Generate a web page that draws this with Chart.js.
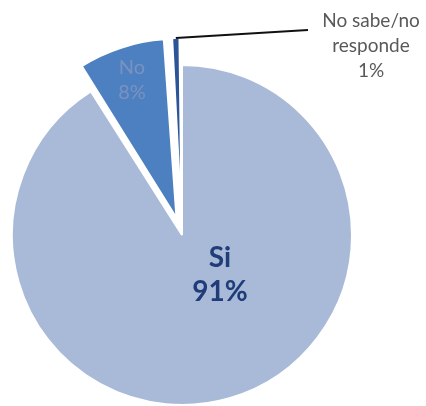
<!DOCTYPE html>
<html>
<head>
<meta charset="utf-8">
<script src="https://cdn.jsdelivr.net/npm/chart.js@4"></script>
<style>
  html, body { margin: 0; padding: 0; background: #fff; }
  #wrap { width: 426px; height: 406px; }
</style>
</head>
<body>
<div id="wrap"><canvas id="pie" width="426" height="406"></canvas></div>
<script>
const categories = ['Si', 'No', ['No sabe/no', 'responde']];
const shares = [91, 8, 1];

const sliceColors = ['#a9b9d8', '#4d80c0', '#2b5596'];
// how far each slice is pulled out of the pie (Chart.js units)
const sliceOffsets = [0, 71, 56];

// text block per slice, placed relative to the pie centre
const labelStyle = [
  { dx: 38, dy: 40, font: 'bold 28px Lato', color: '#1f3d78', lh: 34 },
  { dx: -50, dy: -155, font: '20px Lato', color: '#7b92c0', lh: 25 },
  { dx: 189, dy: -189, font: '19px Lato', color: '#595959', lh: 25, leader: { dx: 126, dy: -205 } },
];

// same shift ArcElement.draw applies for a given offset
function sliceShift(arc) {
  const off = (arc.options.offset || 0) / 4;
  const circ = arc.endAngle - arc.startAngle;
  const fix = 1 - Math.sin(Math.min(Math.PI, circ));
  return off * (1 + fix);
}

const sliceLabels = {
  id: 'sliceLabels',
  afterDatasetsDraw(chart) {
    const ctx = chart.ctx;
    const arcs = chart.getDatasetMeta(0).data;
    arcs.forEach((arc, i) => {
      const st = labelStyle[i];
      const cx = arc.x, cy = arc.y;
      const name = categories[i];
      const lines = (Array.isArray(name) ? name : [name]).concat(shares[i] + '%');

      if (st.leader) {
        const mid = (arc.startAngle + arc.endAngle) / 2;
        const r = arc.outerRadius + sliceShift(arc);
        ctx.save();
        ctx.strokeStyle = '#111';
        ctx.lineWidth = 2;
        ctx.beginPath();
        ctx.moveTo(cx + Math.cos(mid) * r, cy + Math.sin(mid) * r);
        ctx.lineTo(cx + st.leader.dx, cy + st.leader.dy);
        ctx.stroke();
        ctx.restore();
      }

      ctx.save();
      ctx.font = st.font;
      ctx.fillStyle = st.color;
      ctx.textAlign = 'center';
      ctx.textBaseline = 'middle';
      const top = cy + st.dy - (lines.length - 1) * st.lh / 2;
      lines.forEach((t, k) => ctx.fillText(t, cx + st.dx, top + k * st.lh));
      ctx.restore();
    });
  }
};

new Chart(document.getElementById('pie'), {
  type: 'pie',
  data: {
    labels: categories,
    datasets: [{
      data: shares,
      backgroundColor: sliceColors,
      borderColor: '#ffffff',
      borderWidth: 2,
      offset: sliceOffsets,
      hoverOffset: 0,
      clip: false,
    }],
  },
  options: {
    responsive: false,
    animation: false,
    radius: 170,
    layout: { padding: { top: 64, left: 0, right: 62, bottom: 0 } },
    plugins: { legend: { display: false }, tooltip: { enabled: false } },
  },
  plugins: [sliceLabels],
});
</script>
</body>
</html>
